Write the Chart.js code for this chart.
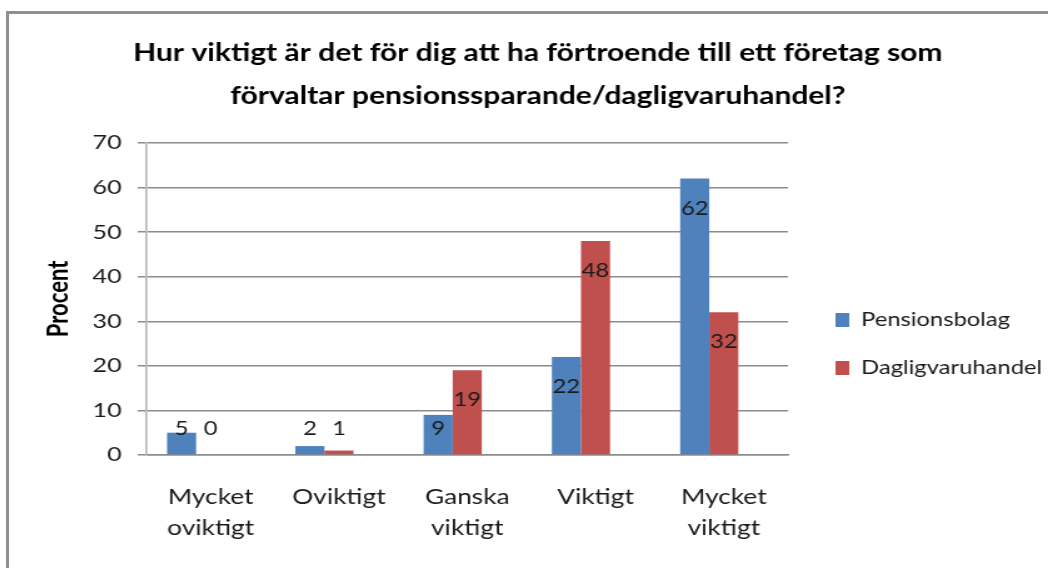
<!DOCTYPE html>
<html>
<head>
<meta charset="utf-8">
<script src="https://cdn.jsdelivr.net/npm/chart.js@4/dist/chart.umd.min.js"></script>
<style>
  body { margin: 0; background: #fff; overflow: hidden; }
  #frame { position: absolute; left: 6px; top: 11px; width: 1100px; height: 600px; border: 3px solid #8f8f8f; background: #fff; }
  canvas { display: block; }
</style>
</head>
<body>
<div id="frame">
  <!-- drawn 831 wide and shown 1039 wide: the original picture is stretched sideways -->
  <canvas id="chart" width="831" height="554" style="width:1039px;height:554px"></canvas>
</div>
<script>
const categories = [['Mycket', 'oviktigt'], 'Oviktigt', ['Ganska', 'viktigt'], 'Viktigt', ['Mycket', 'viktigt']];
const pensionsbolag = [5, 2, 9, 22, 62];
const dagligvaruhandel = [0, 1, 19, 48, 32];
const yTicks = [0, 10, 20, 30, 40, 50, 60, 70];

const font = 'Lato, "Open Sans", sans-serif';

// values written inside the top of each bar, Excel style
const barLabels = {
    id: 'barLabels',
    afterDatasetsDraw(chart) {
        const ctx = chart.ctx;
        const zero = chart.scales.y.getPixelForValue(0);
        ctx.save();
        ctx.font = '19px ' + font;
        ctx.fillStyle = '#1a1a1a';
        ctx.textAlign = 'center';
        ctx.textBaseline = 'middle';
        [0, 1].forEach(i => {
            const meta = chart.getDatasetMeta(i);
            meta.data.forEach((bar, j) => {
                const y = Math.min(bar.y + 30, zero - 26);
                ctx.fillText(String(chart.data.datasets[i].data[j]), bar.x, y);
            });
        });
        ctx.restore();
    }
};

// legend sits a bit lower and further right than chart.js puts it
const nudgeLegend = {
    id: 'nudgeLegend',
    afterLayout(chart) {
        const l = chart.legend;
        l.left += 9; l.right += 9;
        l.top += 53; l.bottom += 53;
    }
};

const ctx = document.getElementById('chart').getContext('2d');
new Chart(ctx, {
    type: 'bar',
    data: {
        labels: categories,
        datasets: [{
            label: 'Pensionsbolag',
            data: pensionsbolag,
            backgroundColor: '#4f81bd'
        }, {
            label: 'Dagligvaruhandel',
            data: dagligvaruhandel,
            backgroundColor: '#c0504d'
        }, {
            // empty slot so the pair sits left of the category centre like the original
            label: '',
            data: categories.map(() => null),
            backgroundColor: 'rgba(0,0,0,0)'
        }]
    },
    options: {
        responsive: false,
        animation: false,
        categoryPercentage: 0.68,
        barPercentage: 1,
        layout: { padding: { left: 23, right: 8, top: 0, bottom: 0 } },
        plugins: {
            title: {
                display: true,
                text: ['Hur viktigt är det för dig att ha förtroende till ett företag som', 'förvaltar pensionssparande/dagligvaruhandel?'],
                color: '#000',
                font: { family: font, size: 24, weight: 'bold', lineHeight: 1.79 },
                padding: { top: 18, bottom: 25 }
            },
            legend: {
                position: 'right',
                labels: {
                    color: '#1a1a1a',
                    font: { family: font, size: 19 },
                    boxWidth: 11,
                    boxHeight: 14,
                    padding: 29,
                    filter: item => item.datasetIndex < 2
                }
            },
            tooltip: { enabled: false }
        },
        scales: {
            x: {
                grid: { display: false },
                border: { color: '#8c8c8c', width: 1.6 },
                ticks: {
                    color: '#1a1a1a',
                    font: { family: font, size: 21, lineHeight: 1.48 },
                    padding: 19,
                    maxRotation: 0
                },
                afterFit(scale) { scale.height = 113; }
            },
            y: {
                min: 0,
                max: 70,
                afterBuildTicks(scale) { scale.ticks = yTicks.map(v => ({ value: v })); },
                grid: { color: '#8c8c8c', lineWidth: 1.5, tickLength: 7 },
                border: { color: '#b4b4b4', width: 1.6 },
                ticks: {
                    color: '#1a1a1a',
                    font: { family: font, size: 20 },
                    padding: 13
                },
                title: {
                    display: true,
                    text: 'Procent',
                    color: '#000',
                    font: { family: font, size: 22, weight: 'bold' },
                    padding: 4
                },
                afterFit(scale) { scale.width = 87; }
            }
        }
    },
    plugins: [barLabels, nudgeLegend]
});
</script>
</body>
</html>
